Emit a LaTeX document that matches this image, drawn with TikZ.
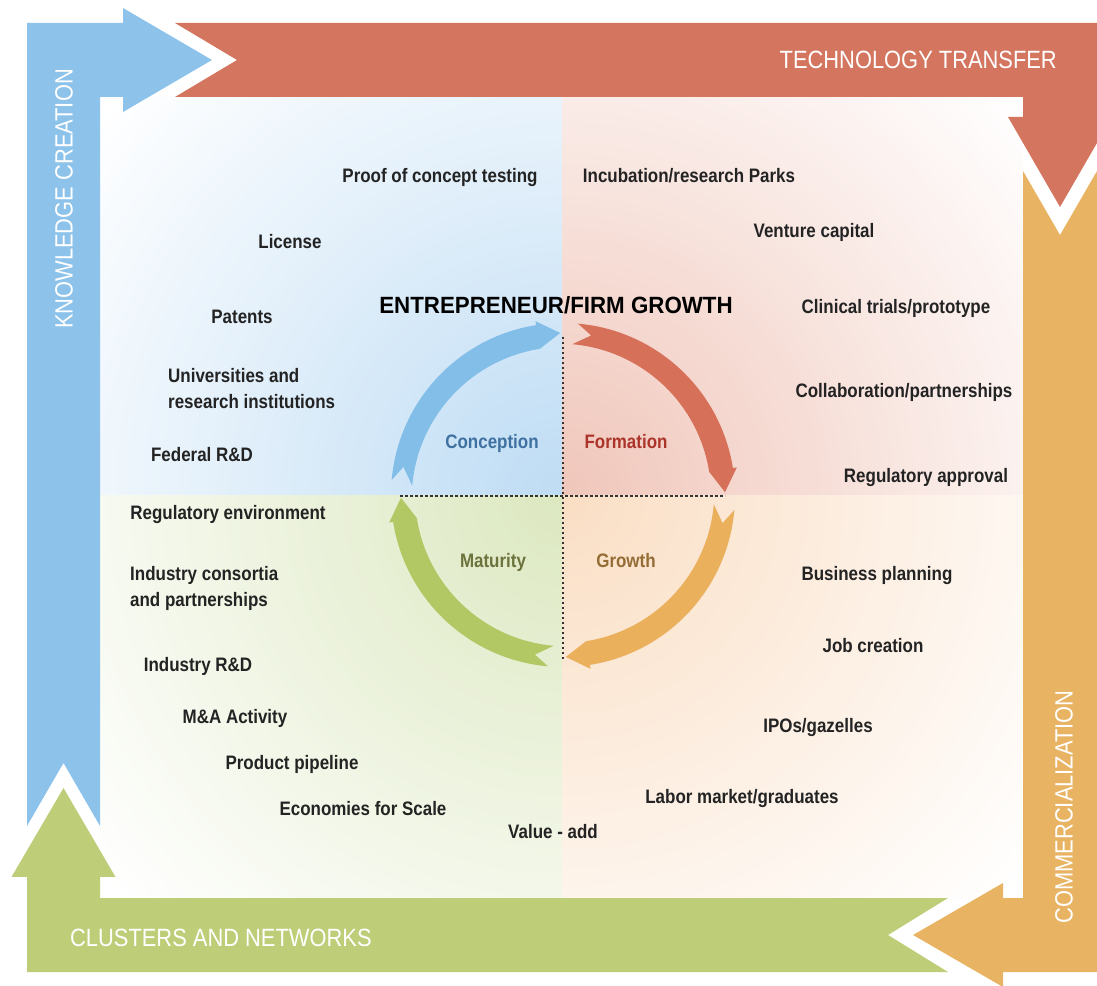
\documentclass[tikz,border=0pt]{standalone}
\usepackage{fontspec}
\setmainfont{Liberation Sans}
\newfontfamily\itemfont{Liberation Sans}[FakeStretch=0.87]
\newfontfamily\bandfont{Liberation Sans}[FakeStretch=0.875]
\newfontfamily\titlefont{Liberation Sans}[FakeStretch=0.95]
\definecolor{kcblue}{RGB}{141,195,234}
\definecolor{ttred}{RGB}{212,118,95}
\definecolor{cmorange}{RGB}{232,180,100}
\definecolor{cngreen}{RGB}{190,205,120}
\definecolor{ringblue}{RGB}{130,190,232}
\definecolor{ringred}{RGB}{214,112,88}
\definecolor{ringorange}{RGB}{234,176,92}
\definecolor{ringgreen}{RGB}{178,200,100}
\definecolor{txtblue}{RGB}{62,112,160}
\definecolor{txtred}{RGB}{172,52,42}
\definecolor{txtgreen}{RGB}{108,114,60}
\definecolor{txtorange}{RGB}{148,108,52}
\definecolor{qblue}{RGB}{190,220,244}
\definecolor{qred}{RGB}{240,198,186}
\definecolor{qgreen}{RGB}{220,232,192}
\definecolor{qorange}{RGB}{250,222,196}
\definecolor{itemgray}{RGB}{35,35,35}
\newcommand{\phasearc}[3]{% colour, start angle, end angle
	\pgfmathsetmacro{\headang}{#3+8}
	\pgfmathsetmacro{\notchang}{#2-5}
	\fill[#1] (#2:172) arc[start angle=#2, end angle=\headang, radius=172]
		-- (\headang:176) -- (#3:162) -- (\headang:148)
		arc[start angle=\headang, end angle=#2, radius=152]
		-- (\notchang:162) -- cycle;}
\begin{document}
\begin{tikzpicture}[x=1pt,y=1pt,
	item/.style={font=\itemfont\bfseries\fontsize{19.5}{26}\selectfont, text=itemgray, inner sep=0pt},
	phase/.style={item, text=#1},
	band/.style={font=\bandfont\fontsize{25}{30}\selectfont, text=white, inner sep=0pt},
	divider/.style={line width=1.4pt, gray!40!black, dash pattern=on 2.5pt off 2.5pt}]
	\useasboundingbox (0,0) rectangle (1097,985);
	\coordinate (C) at (563,490);
	%BACKGROUND
	\begin{scope}
		\clip (100,489) rectangle (562,888);
		\shade[inner color=qblue, outer color=white] (C) circle (600);
	\end{scope}
	\begin{scope}
		\clip (562,489) rectangle (1023,888);
		\shade[inner color=qred, outer color=white] (C) circle (600);
	\end{scope}
	\begin{scope}
		\clip (100,87) rectangle (562,489);
		\shade[inner color=qgreen, outer color=white] (C) circle (600);
	\end{scope}
	\begin{scope}
		\clip (562,87) rectangle (1023,489);
		\shade[inner color=qorange, outer color=white] (C) circle (600);
	\end{scope}
	%ARROWS
	\fill[kcblue] (27,159) -- (27,962) -- (123,962) -- (123,977) -- (212,925) -- (123,873)
		-- (123,888) -- (100,888) -- (100,159) -- (63.5,222) -- cycle;
	\fill[ttred] (175,962) -- (237,925) -- (175,888) -- (1023,888) -- (1023,868) -- (1008,868)
		-- (1060,778) -- (1112,868) -- (1097,868) -- (1097,962) -- cycle;
	\fill[cmorange] (1023,814) -- (1060,750) -- (1097,814) -- (1097,13) -- (1003,13) -- (1003,-2)
		-- (913,50) -- (1003,102) -- (1003,87) -- (1023,87) -- cycle;
	\fill[cngreen] (948,87) -- (888,50) -- (948,13) -- (27,13) -- (27,108) -- (11.5,108)
		-- (63.5,197) -- (115.5,108) -- (100,108) -- (100,87) -- cycle;
	\node[band, rotate=90] (kc) at (64,786) {KNOWLEDGE CREATION};
	\node[band, anchor=east] (tt) at (1057,925) {TECHNOLOGY TRANSFER};
	\node[band, rotate=90] (cm) at (1064,178) {COMMERCIALIZATION};
	\node[band, anchor=west] (cn) at (70,47) {CLUSTERS AND NETWORKS};
	%CYCLE
	\draw[divider] (C) ++(0,158) -- ++(0,-323);
	\draw[divider] (400,489) -- (725,489);
	\begin{scope}[shift={(C)}]
		\phasearc{ringblue}{175}{91}
		\phasearc{ringred}{85}{1}
		\phasearc{ringorange}{-5}{-89}
		\phasearc{ringgreen}{265}{181}
	\end{scope}
	\node[font=\titlefont\bfseries\fontsize{23.5}{28}\selectfont, anchor=base, inner sep=0pt] (title) at (556,671) {ENTREPRENEUR/FIRM GROWTH};
	\node[phase=txtblue, anchor=base] (conc) at (492,536) {Conception};
	\node[phase=txtred, anchor=base] (form) at (626,536) {Formation};
	\node[phase=txtgreen, anchor=base] (matu) at (493,417) {Maturity};
	\node[phase=txtorange, anchor=base] (grow) at (626,417) {Growth};
	%ITEMS
	\node[item, anchor=base] (proof) at (440,802) {Proof of concept testing};
	\node[item, anchor=base] (incub) at (689,802) {Incubation/research Parks};
	\node[item, anchor=base] (lic) at (290,736) {License};
	\node[item, anchor=base] (vc) at (814,747) {Venture capital};
	\node[item, anchor=base] (pat) at (242,661) {Patents};
	\node[item, anchor=base] (clin) at (896,671) {Clinical trials/prototype};
	\node[item, anchor=north west, align=left] (univ) at (168,617) {Universities and\\research institutions};
	\node[item, anchor=base] (collab) at (904,587) {Collaboration/partnerships};
	\node[item, anchor=base] (fed) at (202,523) {Federal R\&D};
	\node[item, anchor=base] (regapp) at (926,502) {Regulatory approval};
	\node[item, anchor=base] (regenv) at (228,465) {Regulatory environment};
	\node[item, anchor=base] (bus) at (877,404) {Business planning};
	\node[item, anchor=north west, align=left] (cons) at (130,419) {Industry consortia\\and partnerships};
	\node[item, anchor=base] (jobs) at (873,332) {Job creation};
	\node[item, anchor=base] (indrd) at (198,313) {Industry R\&D};
	\node[item, anchor=base] (mna) at (235,261) {M\&A Activity};
	\node[item, anchor=base] (ipo) at (818,252) {IPOs/gazelles};
	\node[item, anchor=base] (pipe) at (292,215) {Product pipeline};
	\node[item, anchor=base] (labor) at (742,181) {Labor market/graduates};
	\node[item, anchor=base] (econ) at (363,169) {Economies for Scale};
	\node[item, anchor=base] (val) at (553,146) {Value - add};
\end{tikzpicture}
\end{document}
